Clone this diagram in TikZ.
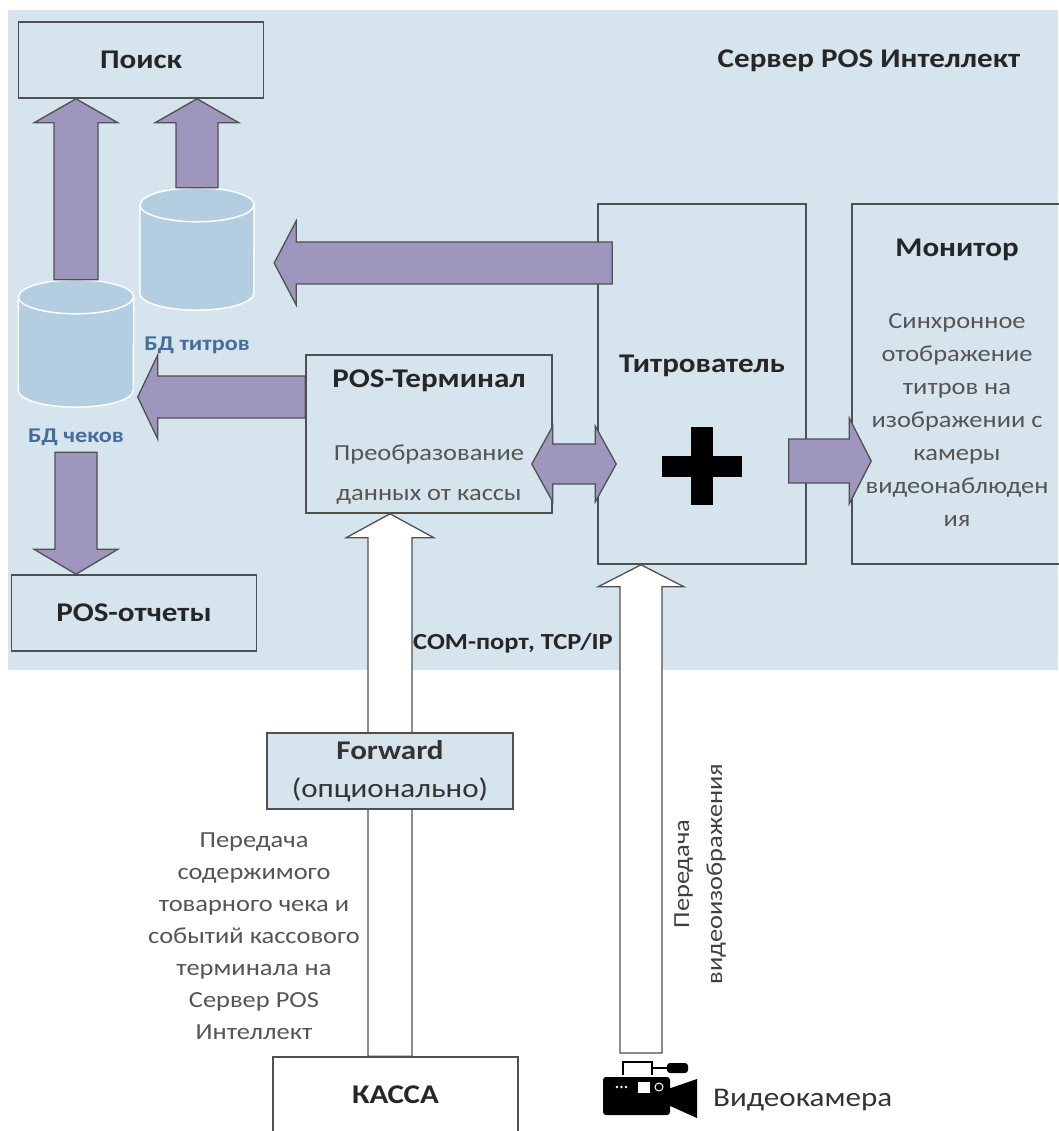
\documentclass[tikz,border=0pt]{standalone}
\usepackage{fontspec}
\setmainfont{Carlito}[FakeStretch=1.15]
\usepackage{tikz}
\usetikzlibrary{calc}
\usetikzlibrary{positioning}

\definecolor{srvbg}{RGB}{214,228,237}
\definecolor{arrowfill}{RGB}{159,150,189}
\definecolor{dbfill}{RGB}{178,206,224}
\definecolor{edgecol}{RGB}{80,80,80}
\definecolor{dbtext}{RGB}{68,108,156}
\definecolor{desccol}{RGB}{85,85,85}

\newcommand{\fatarrow}[6][fat]{%
  \path ($(#3)!#6!(#2)$) coordinate (fa h);
  \draw[#1] ($(#2)!#4!90:(#3)$) -- ($(fa h)!#4!90:(#3)$) -- ($(fa h)!#5!90:(#3)$) -- (#3)
    -- ($(fa h)!#5!-90:(#3)$) -- ($(fa h)!#4!-90:(#3)$) -- ($(#2)!#4!-90:(#3)$) -- cycle;}
\newcommand{\fatdarrow}[6][fat]{%
  \path ($(#3)!#6!(#2)$) coordinate (fa h) ($(#2)!#6!(#3)$) coordinate (fa t);
  \draw[#1] (#2) -- ($(fa t)!#5!90:(#3)$) -- ($(fa t)!#4!90:(#3)$) -- ($(fa h)!#4!90:(#3)$)
    -- ($(fa h)!#5!90:(#3)$) -- (#3) -- ($(fa h)!#5!-90:(#3)$) -- ($(fa h)!#4!-90:(#3)$)
    -- ($(fa t)!#4!-90:(#3)$) -- ($(fa t)!#5!-90:(#3)$) -- cycle;}
\newcommand{\dbdraw}[2]{%
  \draw[db] ([yshift=-17pt]#1.north west) -- ([yshift=17pt]#1.south west)
    arc[start angle=180, end angle=360, x radius=#2, y radius=17pt]
    -- ([yshift=-17pt]#1.north east)
    arc[start angle=0, end angle=180, x radius=#2, y radius=17pt] -- cycle;
  \draw[db, fill=none] ([yshift=-17pt]#1.north west)
    arc[start angle=180, end angle=360, x radius=#2, y radius=17pt];}

\tikzset{
  box/.style={draw=edgecol, line width=1.6pt, inner sep=0pt},
  dbspot/.style={inner sep=0pt},
  db/.style={draw=white, line width=1.5pt, fill=dbfill},
  fat/.style={draw=edgecol, line width=1.3pt, fill=arrowfill, line join=miter},
  hollow/.style={draw=edgecol, line width=1.3pt, fill=white, line join=miter},
  title/.style={font=\fontsize{27}{32}\selectfont\bfseries, text=black!85, inner sep=0pt},
  desc/.style={font=\fontsize{23}{33}\selectfont, text=desccol, align=center, inner sep=0pt},
  dblbl/.style={font=\fontsize{21}{24}\selectfont\bfseries, text=dbtext, inner sep=0pt}
}

\begin{document}
\begin{tikzpicture}[x=1pt,y=-1pt]
    \useasboundingbox (0,0) rectangle (1058,1131);
    \fill[srvbg] (8,10) rectangle (1058,670);

    \node[box, title, minimum width=245pt, minimum height=76pt] (search) at (141,60) {Поиск};
    \node[box, minimum width=208pt, minimum height=360pt] (titr) at (702,384) {};
    \node[box, minimum width=210pt, minimum height=360pt] (mon) at (957,384) {};
    \node[box, minimum width=246pt, minimum height=158pt] (pos) at (429,434) {};
    \node[box, title, minimum width=245pt, minimum height=76pt] (rep) at (134,613) {POS-отчеты};
    \node[box, fill=white, minimum width=245pt, minimum height=86pt] (kassa) at (395.5,1100) {};
    \node[dbspot, minimum width=114pt, minimum height=122pt] (dbt) at (197,249) {};
    \node[dbspot, minimum width=115pt, minimum height=127pt] (dbc) at (76,343.5) {};
    \dbdraw{dbt}{57pt}
    \dbdraw{dbc}{57.5pt}

    \node[title] at (869,61) {Сервер POS Интеллект};
    \node[dblbl, below=26pt of dbt] {БД титров};
    \node[dblbl, below=21pt of dbc] {БД чеков};
    \node[title, below=36pt of mon.north] {Монитор};
    \node[desc, below=110pt of mon.north] {Синхронное\\отображение\\титров на\\изображении с\\камеры\\видеонаблюден\\ия};
    \node[title, below=152pt of titr.north] {Титрователь};
    \node[title, below=15pt of pos.north] {POS-Терминал};
    \node[desc, below=90pt of pos.north, font=\fontsize{23}{40}\selectfont] {Преобразование\\данных от кассы};
    \node[title, below=29pt of kassa.north] {КАССА};

    \coordinate (c1) at (dbc.north |- search.south);
    \coordinate (c2) at (dbt.north |- search.south);
    \coordinate (tc a) at ([xshift=15pt,yshift=121pt]titr.west);
    \coordinate (tc b) at ([xshift=20pt]dbt.east |- tc a);
    \coordinate (pc a) at ([yshift=37pt]pos.west);
    \coordinate (pc b) at ([xshift=4pt]dbc.east |- pc a);
    \coordinate (pt a) at ([xshift=-21pt,yshift=-30pt]pos.east);
    \coordinate (pt b) at ([xshift=19pt]titr.west |- pt a);
    \coordinate (tm a) at ([xshift=-18pt,yshift=-77pt]titr.east);
    \coordinate (tm b) at ([xshift=20pt]mon.west |- tm a);
    \coordinate (cr a) at ([yshift=-45pt]dbc.south);
    \coordinate (cr b) at (cr a |- rep.north);
    \coordinate (kp a) at ([xshift=-5.5pt]kassa.north);
    \coordinate (kp b) at (kp a |- pos.south);
    \coordinate (cam) at (641,1053);
    \coordinate (ct b) at (cam |- titr.south);

    \fatarrow{dbc.north}{c1}{22pt}{42pt}{24pt}
    \fatarrow{dbt.north}{c2}{21pt}{42pt}{24pt}
    \fatarrow{tc a}{tc b}{21pt}{42pt}{22pt}
    \fatarrow{pc a}{pc b}{21pt}{42pt}{20pt}
    \fatdarrow{pt a}{pt b}{20pt}{38pt}{21pt}
    \fatarrow{tm a}{tm b}{22pt}{43pt}{22pt}
    \fatarrow{cr a}{cr b}{21pt}{42pt}{25pt}
    \fatarrow[hollow]{kp a}{kp b}{22pt}{44pt}{24pt}
    \fatarrow[hollow]{cam}{ct b}{21pt}{43pt}{22pt}

    \node[box, fill=srvbg, minimum width=246pt, minimum height=76pt, align=center,
      font=\fontsize{27}{38}\selectfont, text=black!80] (fwd) at (kp a |- 0,771)
      {\textbf{Forward}\\(опционально)};

    \coordinate (plus) at ([yshift=-82pt]titr.center);
    \fill ([shift={(-40pt,-10.5pt)}]plus) rectangle ([shift={(40pt,10.5pt)}]plus);
    \fill ([shift={(-11pt,-39pt)}]plus) rectangle ([shift={(11pt,39pt)}]plus);

    \node[title, font=\fontsize{23}{26}\selectfont\bfseries, anchor=west] at (413,643) {COM-порт, TCP/IP};
    \node[desc, font=\fontsize{23}{32}\selectfont, anchor=north] at (254,833)
      {Передача\\содержимого\\товарного чека и\\событий кассового\\терминала на\\Сервер POS\\Интеллект};
    \node[desc, rotate=90, text=black!75] at (700,874) {Передача\\видеоизображения};

    \begin{scope}[shift={(cam)}]
      \fill[rounded corners=3pt] (-38,24) rectangle (29,62);
      \fill (27,36) -- (56,26) -- (56,65) -- (27,52) -- cycle;
      \draw[line width=1.3pt] (-18,22) -- (-18,9) -- (11,9) -- (11,22);
      \draw[line width=1.3pt] (11,15) -- (27,15);
      \fill[rounded corners=3pt] (26,10) rectangle (47,20);
      \fill[white] (-24,34) circle (1.4) (-19.5,34) circle (1.4) (-15,34) circle (1.4);
      \fill[white] (-3,29) rectangle (9,40);
      \draw[white, line width=1pt] (18,34) circle (4);
    \end{scope}
    \node[inner sep=0pt, anchor=west, font=\fontsize{27}{30}\selectfont, text=black!80] at (713,1100) {Видеокамера};
  \end{tikzpicture}
\end{document}
